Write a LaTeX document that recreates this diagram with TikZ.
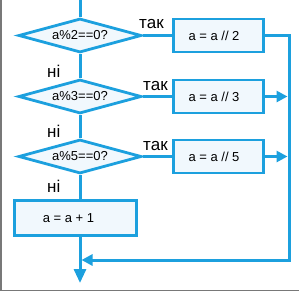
\documentclass[tikz,border=0pt]{standalone}
\usepackage{fontspec}
\setmainfont{Liberation Sans}
\usetikzlibrary{shapes.geometric,arrows.meta}
\definecolor{fc}{RGB}{28,160,222}
\definecolor{fillc}{RGB}{241,248,253}
\definecolor{framec}{RGB}{120,120,120}
\begin{document}
\begin{tikzpicture}[x=1pt,y=-1pt,
  flow/.style={draw=fc,line width=3pt},
  dec/.style={diamond,draw=fc,fill=fillc,line width=2.8pt,minimum width=123pt,minimum height=34pt,inner sep=0pt,shape aspect=3.6,font=\fontsize{13}{13}\selectfont},
  proc/.style={rectangle,draw=fc,fill=fillc,line width=2.8pt,minimum width=90pt,minimum height=33pt,inner sep=0pt},
  proctext/.style={font=\fontsize{13}{13}\selectfont,inner sep=0pt},
  lbl/.style={font=\fontsize{17}{17}\selectfont,inner sep=0pt},
  tipS/.style={-{Triangle[length=11pt,width=11pt]}},
  tipB/.style={-{Triangle[length=14pt,width=12pt]}}
]
\useasboundingbox (0,0) rectangle (299,292);
\draw[framec,line width=1.3pt] (1,0) -- (1,290.5) -- (299,290.5);

\node[dec] (d1) at (80,35.5) {a\%2==0?};
\node[dec] (d2) at (80,96.5) {a\%3==0?};
\node[dec] (d3) at (80,156.5) {a\%5==0?};

\node[proc,label={[proctext,xshift=-4.5pt]center:a = a // 2}] (b1) at (218.5,35.5) {};
\node[proc,label={[proctext,xshift=-4.5pt]center:a = a // 3}] (b2) at (218.5,96.5) {};
\node[proc,label={[proctext,xshift=-4.5pt]center:a = a // 5}] (b3) at (218.5,156.5) {};
\node[proc,minimum width=122pt,minimum height=35pt,label={[proctext,xshift=-7pt]center:a = a + 1}] (b4) at (75.5,218) {};

\coordinate (start) at (80,0);
\coordinate (rtop) at (289,35.5);
\coordinate (rbot) at (289,260);
\coordinate (join) at (80,260);
\coordinate (end) at (80,283);

\draw[flow] (start) -- (d1.north);
\draw[flow] (d1.south) -- (d2.north);
\draw[flow] (d2.south) -- (d3.north);
\draw[flow] (d3.south) -- (d3.south |- b4.north);

\draw[flow] (d1.east) -- (b1.west);
\draw[flow] (d2.east) -- (b2.west);
\draw[flow] (d3.east) -- (b3.west);

\draw[flow,tipS,shorten >=1.5pt] (b1.east) -- (rtop) -- (rbot) -- (join);
\draw[flow,tipS,shorten >=1.5pt] (b2.east) -- (b2.east -| rtop);
\draw[flow,tipS,shorten >=1.5pt] (b3.east) -- (b3.east -| rtop);
\draw[flow,tipB] (b4.south -| end) -- (end);

\node[lbl,anchor=base west] (t1) at (139,28) {так};
\node[lbl,anchor=base west] (t2) at (143,90) {так};
\node[lbl,anchor=base west] (t3) at (143,150) {так};
\node[lbl,anchor=base west] (n1) at (47,77) {ні};
\node[lbl,anchor=base west] (n2) at (47,137) {ні};
\node[lbl,anchor=base west] (n3) at (47,192) {ні};
\end{tikzpicture}
\end{document}
